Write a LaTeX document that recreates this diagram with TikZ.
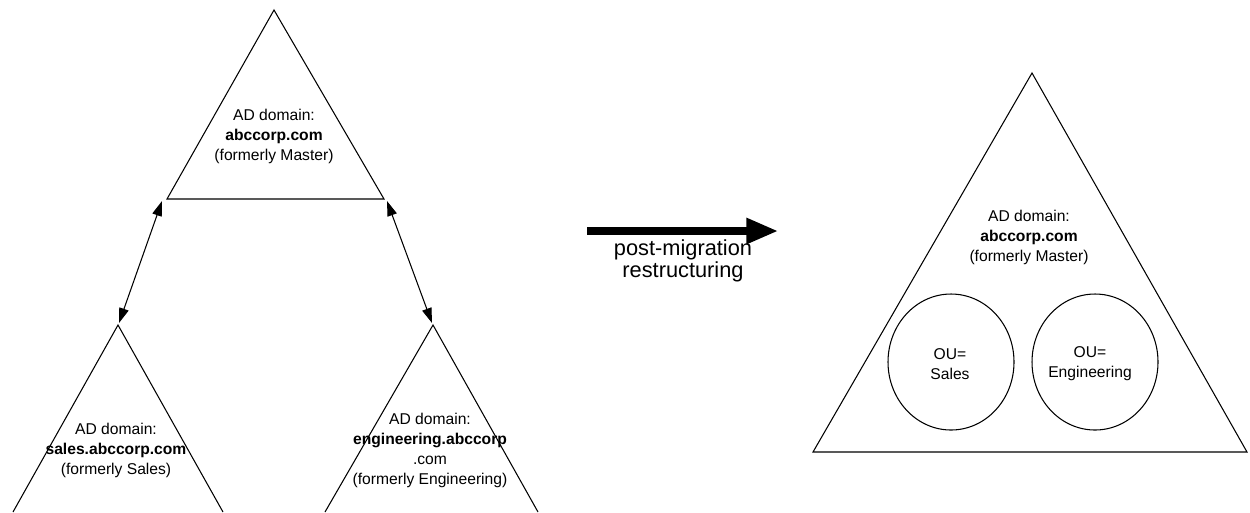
\documentclass[tikz,border=0pt]{standalone}
\usepackage{fontspec}
\setmainfont{Liberation Sans}
\usetikzlibrary{arrows.meta}
\begin{document}
\begin{tikzpicture}[x=0.02cm, y=-0.02cm,
  edge/.style={draw=black, line width=0.6pt},
  link/.style={edge, {Triangle[length=8.5pt,width=5.5pt]}-{Triangle[length=8.5pt,width=5.5pt]}},
  label/.style={align=center, inner sep=0pt, font=\fontsize{8.9pt}{11.4pt}\selectfont},
  bigarrow/.style={draw=black, line width=4pt, -{Triangle[length=18pt,width=14pt]}},
  oucircle/.style={edge, ellipse, minimum width=127*0.02cm, minimum height=137*0.02cm}
]
\useasboundingbox (0,0) rectangle (1250,512);

% forest root before migration
\coordinate (mTop) at (274,10);
\coordinate (mL) at (167,199);
\coordinate (mR) at (384,199);
\draw[edge] (mL) -- (mTop) -- (mR) -- cycle;
\node[label] (mTxt) at (274,136) {AD domain:\\ \textbf{abccorp.com}\\ (formerly Master)};

% child domain: sales
\coordinate (sTop) at (118,325);
\coordinate (sL) at (13,512);
\coordinate (sR) at (223,512);
\draw[edge] (sL) -- (sTop) -- (sR);
\node[label] (sTxt) at (116,450) {AD domain:\\ \textbf{sales.abccorp.com}\\ (formerly Sales)};

% child domain: engineering
\coordinate (eTop) at (433,325);
\coordinate (eL) at (325,512);
\coordinate (eR) at (538,512);
\draw[edge] (eL) -- (eTop) -- (eR);
\node[label] (eTxt) at (430,450) {AD domain:\\ \textbf{engineering.abccorp}\\ .com\\ (formerly Engineering)};

% trust links
\coordinate (lA) at (162,201);
\coordinate (lB) at (119,323);
\coordinate (rA) at (387,201);
\coordinate (rB) at (432,323);
\draw[link] (lA) -- (lB);
\draw[link] (rA) -- (rB);

% restructuring arrow
\coordinate (aS) at (587,231);
\coordinate (aE) at (778,231);
\draw[bigarrow] (aS) -- (aE);
\node[align=center, inner sep=0pt, font=\fontsize{12.4pt}{12.6pt}\selectfont] (aTxt) at (683,261) {post-migration\\ restructuring};

% forest after migration
\coordinate (nTop) at (1032,73);
\coordinate (nL) at (813,452);
\coordinate (nR) at (1247,452);
\draw[edge] (nL) -- (nTop) -- (nR) -- cycle;
\node[label] (nTxt) at (1029,237) {AD domain:\\ \textbf{abccorp.com}\\ (formerly Master)};

% organizational units
\draw[edge] (951,362) ellipse [x radius=63, y radius=68];
\node[label] (ouS) at (950,364) {OU=\\ Sales};
\draw[edge] (1095,362) ellipse [x radius=63, y radius=68];
\node[label] (ouE) at (1090,364) {OU=\\ Engineering};
\end{tikzpicture}
\end{document}
